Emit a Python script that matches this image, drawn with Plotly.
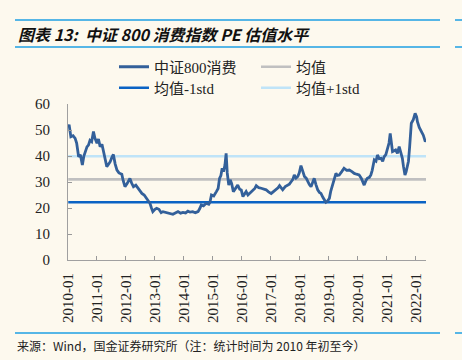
import plotly.graph_objects as go

# ---- data ----
dates = [
    "2010-01-04","2010-01-15","2010-02-06","2010-03-06","2010-04-01","2010-04-20","2010-05-15","2010-06-06",
    "2010-07-01","2010-07-20","2010-08-08","2010-08-28","2010-09-16","2010-10-05","2010-10-26","2010-11-18",
    "2010-12-05","2011-01-01","2011-01-20","2011-02-10","2011-03-05","2011-03-25","2011-04-12","2011-05-05",
    "2011-05-27","2011-06-17","2011-07-08","2011-07-27","2011-08-18","2011-09-10","2011-10-05","2011-11-10",
    "2011-11-28","2011-12-20","2012-01-18","2012-02-20","2012-03-14","2012-04-05","2012-05-05","2012-06-06",
    "2012-06-28","2012-07-20","2012-08-18","2012-09-20","2012-10-12","2012-10-30","2012-11-18","2012-12-05",
    "2013-01-01","2013-01-22","2013-02-20","2013-03-20","2013-04-12","2013-05-12","2013-06-14","2013-07-15",
    "2013-08-15","2013-09-20","2013-10-18","2013-11-20","2013-12-20","2014-01-22","2014-02-20","2014-03-20",
    "2014-04-22","2014-05-25","2014-06-28","2014-07-20","2014-08-08","2014-09-05","2014-10-08","2014-11-10",
    "2014-11-25","2014-12-14","2015-01-12","2015-02-14","2015-03-08","2015-03-26","2015-04-12","2015-04-28",
    "2015-05-15","2015-06-02","2015-06-17","2015-07-01","2015-07-20","2015-08-07","2015-08-25","2015-09-16",
    "2015-10-15","2015-11-10","2015-12-05","2015-12-25","2016-01-15","2016-02-06","2016-02-24","2016-03-18",
    "2016-04-08","2016-04-30","2016-05-18","2016-06-12","2016-07-01","2016-08-01","2016-09-01","2016-10-01",
    "2016-11-02","2016-12-02","2017-01-05","2017-02-06","2017-03-08","2017-04-01","2017-04-20","2017-05-12",
    "2017-05-30","2017-07-01","2017-08-01","2017-08-22","2017-09-13","2017-10-05","2017-10-23","2017-11-14",
    "2017-12-06","2017-12-25","2018-01-15","2018-02-03","2018-02-28","2018-03-22","2018-04-08","2018-05-01",
    "2018-05-22","2018-06-14","2018-07-01","2018-07-23","2018-08-14","2018-09-05","2018-09-24","2018-10-20",
    "2018-11-06","2018-11-25","2018-12-14","2019-01-08","2019-01-26","2019-02-17","2019-03-10","2019-04-01",
    "2019-04-20","2019-05-12","2019-06-13","2019-07-12","2019-08-14","2019-09-16","2019-10-20","2019-11-18",
    "2019-12-16","2020-01-18","2020-02-14","2020-03-07","2020-03-22","2020-04-12","2020-04-30","2020-05-26",
    "2020-06-14","2020-07-01","2020-07-16","2020-07-27","2020-08-18","2020-09-05","2020-09-27","2020-10-20",
    "2020-11-10","2020-11-28","2020-12-20","2021-01-12","2021-01-29","2021-02-13","2021-02-27","2021-03-14",
    "2021-04-05","2021-04-22","2021-05-15","2021-06-06","2021-06-25","2021-07-16","2021-07-30","2021-08-18",
    "2021-09-02","2021-09-16","2021-10-01","2021-10-16","2021-11-06","2021-12-01","2021-12-24","2022-01-12",
    "2022-01-22","2022-02-14","2022-03-06","2022-03-20","2022-04-06","2022-04-20","2022-05-01","2022-05-10",
]
pe_values = [
    51.3,52.0,47.4,47.8,46.8,45.0,39.7,40.5,
    36.5,40.0,41.7,43.5,44.2,46.0,45.5,49.4,
    47.0,44.9,46.5,43.6,44.5,41.7,38.5,35.9,
    36.8,37.8,39.5,40.6,37.0,34.6,33.5,33.0,
    30.5,28.2,29.5,31.4,29.5,28.2,28.8,27.6,
    26.8,25.6,25.0,23.7,22.9,21.8,20.0,18.6,
    19.5,19.9,19.5,18.2,18.6,18.3,18.0,17.7,
    17.6,18.2,18.6,18.0,18.3,18.1,18.8,18.4,
    18.6,18.2,18.6,19.8,21.2,20.8,21.8,21.4,
    22.2,25.0,24.6,26.3,27.5,31.4,32.5,35.3,
    34.0,36.5,41.0,33.5,28.8,30.8,29.5,26.3,
    27.5,28.8,27.2,26.9,24.4,25.2,26.3,25.0,
    25.6,26.3,26.8,27.5,28.6,27.8,27.6,27.3,
    27.0,26.2,25.6,26.4,27.0,27.8,28.6,27.6,
    27.0,28.2,28.8,29.2,30.1,31.0,32.7,31.5,
    32.1,33.5,36.3,34.0,32.1,31.5,30.1,29.0,
    28.2,30.0,31.4,29.0,27.0,26.0,25.6,24.0,
    23.1,22.2,22.6,23.7,26.5,28.8,31.5,33.3,
    32.5,32.7,34.0,35.3,34.5,34.6,34.0,33.3,
    33.0,32.7,31.5,30.0,28.8,30.5,31.4,31.8,
    32.7,34.5,36.5,38.5,38.0,40.4,39.0,39.1,
    38.0,39.7,40.5,43.0,45.0,48.7,44.0,41.7,
    42.0,42.3,41.0,43.6,41.5,39.1,36.0,32.7,
    34.0,36.5,38.0,43.6,52.6,54.0,56.4,55.0,
    53.2,51.0,49.4,49.0,48.0,46.0,45.5,46.2,
]
mean_value = 31.0
minus_std_value = 22.2
plus_std_value = 39.9

tick_dates = ["%d-01-01" % y for y in range(2010, 2023)]
tick_labels = ["%d-01" % y for y in range(2010, 2023)]
y_ticks = [0, 10, 20, 30, 40, 50, 60]

series_names = ["中证800消费", "均值", "均值-1std", "均值+1std"]
title_text = "图表 13:  中证 800 消费指数 PE 估值水平"
source_text = "来源：Wind，国金证券研究所（注：统计时间为 2010 年初至今）"

# ---- styling ----
BG = "#FDF9EE"
SERIF = "Liberation Serif, Noto Sans CJK SC, serif"
flat_x = [dates[0], dates[-1]]

W, H = 462, 360
L, R, T, B = 68, 36, 104, 100
pw, ph = W - L - R, H - T - B


def px_x(px):
    return (px - L) / pw


def px_y(py):
    return (H - B - py) / ph


fig = go.Figure()
fig.add_trace(go.Scatter(x=flat_x, y=[mean_value] * 2, mode="lines", name=series_names[1],
                         line=dict(color="#C0C0C0", width=2.6), legend="legend", legendrank=2))
fig.add_trace(go.Scatter(x=flat_x, y=[minus_std_value] * 2, mode="lines", name=series_names[2],
                         line=dict(color="#0A63C4", width=2.6), legend="legend2", legendrank=1))
fig.add_trace(go.Scatter(x=flat_x, y=[plus_std_value] * 2, mode="lines", name=series_names[3],
                         line=dict(color="#BFE4F8", width=2.6), legend="legend2", legendrank=2))
fig.add_trace(go.Scatter(x=dates, y=pe_values, mode="lines", name=series_names[0],
                         line=dict(color="#33609A", width=2.8), legend="legend", legendrank=1))

legend_common = dict(orientation="h", xanchor="left", yanchor="middle",
                     xref="container", yref="container",
                     bgcolor="rgba(0,0,0,0)", entrywidth=97, entrywidthmode="pixels",
                     font=dict(family=SERIF, size=15, color="#222"), traceorder="normal",
                     itemwidth=30)

line_blue = "#1E9FE3"
fig.update_layout(
    width=W, height=H,
    margin=dict(l=L, r=R, t=T, b=B, autoexpand=False),
    paper_bgcolor=BG, plot_bgcolor=BG,
    showlegend=True,
    legend=dict(x=114 / W, y=1 - 67 / H, **legend_common),
    legend2=dict(x=114 / W, y=1 - 88 / H, **legend_common),
    xaxis=dict(
        type="date", range=["2010-01-01", "2022-05-10"], automargin=False,
        tickmode="array", tickvals=tick_dates, ticktext=tick_labels,
        tickangle=-90, ticks="inside", ticklen=4, tickcolor="#999",
        showline=True, linecolor="#A0A0A0", linewidth=1.2,
        showgrid=False, zeroline=False,
        tickfont=dict(family=SERIF, size=15, color="#222"),
        ticklabelstandoff=6,
    ),
    yaxis=dict(
        range=[0, 60], tickmode="array", tickvals=y_ticks, automargin=False,
        ticks="inside", ticklen=4, tickcolor="#999",
        showline=True, linecolor="#A0A0A0", linewidth=1.2,
        showgrid=False, zeroline=False,
        tickfont=dict(family=SERIF, size=15, color="#222"),
        ticklabelstandoff=14,
    ),
    shapes=[
        dict(type="line", xref="paper", yref="paper", x0=px_x(15), x1=px_x(440),
             y0=px_y(20), y1=px_y(20), line=dict(color=line_blue, width=1.5)),
        dict(type="line", xref="paper", yref="paper", x0=px_x(15), x1=px_x(440),
             y0=px_y(47), y1=px_y(47), line=dict(color=line_blue, width=1.5)),
        dict(type="line", xref="paper", yref="paper", x0=px_x(15), x1=px_x(440),
             y0=px_y(333), y1=px_y(333), line=dict(color=line_blue, width=1.5)),
        dict(type="line", xref="paper", yref="paper", x0=px_x(455), x1=px_x(463),
             y0=px_y(20), y1=px_y(20), line=dict(color=line_blue, width=1.5)),
        dict(type="line", xref="paper", yref="paper", x0=px_x(455), x1=px_x(463),
             y0=px_y(47), y1=px_y(47), line=dict(color=line_blue, width=1.5)),
        dict(type="line", xref="paper", yref="paper", x0=px_x(455), x1=px_x(463),
             y0=px_y(333), y1=px_y(333), line=dict(color=line_blue, width=1.5)),
    ],
    annotations=[
        dict(text="<b><i>" + title_text + "</i></b>", xref="paper", yref="paper",
             x=px_x(16), y=px_y(33.5), xanchor="left", yanchor="middle", showarrow=False,
             font=dict(family="Noto Sans CJK SC, sans-serif", size=16, color="#111")),
        dict(text=source_text, xref="paper", yref="paper",
             x=px_x(15), y=px_y(345), xanchor="left", yanchor="middle", showarrow=False,
             font=dict(family="Noto Sans CJK SC, sans-serif", size=12, color="#222")),
    ],
)

fig.write_html("out.html", config={"displayModeBar": False},
               post_script="document.body.style.margin='0';document.body.style.background='%s';" % BG)
